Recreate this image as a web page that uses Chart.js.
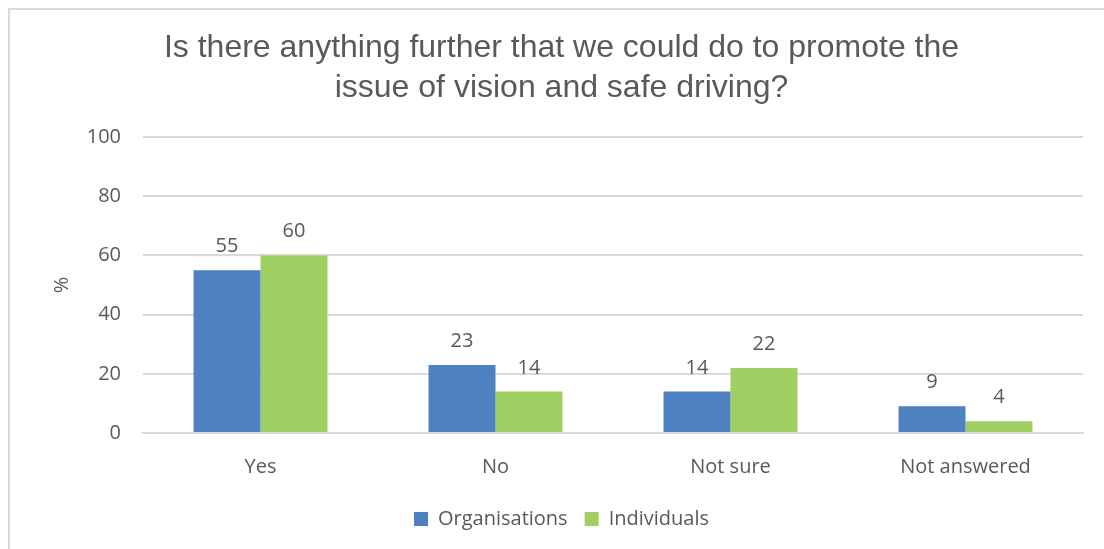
<!DOCTYPE html>
<html>
<head>
<meta charset="utf-8">
<script src="https://cdn.jsdelivr.net/npm/chart.js@4/dist/chart.umd.min.js"></script>
<style>
  html, body { margin: 0; padding: 0; background: #fff; }
  #frame { position: absolute; left: 8px; top: 8px; width: 1110px; height: 560px; border: 2px solid #d9d9d9; box-sizing: border-box; }
  #wrap { position: absolute; left: 0; top: 0; width: 1104px; height: 549px; }
</style>
</head>
<body>
<div id="frame"></div>
<div id="wrap"><canvas id="c" width="1104" height="549"></canvas></div>
<script>
const categories = ['Yes', 'No', 'Not sure', 'Not answered'];
const organisations = [55, 23, 14, 9];
const individuals = [60, 14, 22, 4];
const yTicks = [0, 20, 40, 60, 80, 100];

const textColor = '#595959';
const bodyFont = '"Open Sans", Lato, sans-serif';

// Writes each bar's value just above its top edge
const valueLabels = {
  id: 'valueLabels',
  afterDatasetsDraw(chart) {
    const ctx = chart.ctx;
    ctx.save();
    ctx.font = '20px ' + bodyFont;
    ctx.fillStyle = textColor;
    ctx.textAlign = 'center';
    ctx.textBaseline = 'alphabetic';
    chart.data.datasets.forEach((ds, i) => {
      chart.getDatasetMeta(i).data.forEach((bar, j) => {
        ctx.fillText(String(ds.data[j]), bar.x, bar.y - 18);
      });
    });
    ctx.restore();
  }
};

new Chart(document.getElementById('c'), {
  type: 'bar',
  data: {
    labels: categories,
    datasets: [
      { label: 'Organisations', data: organisations, backgroundColor: '#4e81c0' },
      { label: 'Individuals', data: individuals, backgroundColor: '#9fce63' }
    ]
  },
  options: {
    responsive: false,
    animation: false,
    layout: { padding: { left: 40, right: 21, top: 8, bottom: 10 } },
    datasets: { bar: { categoryPercentage: 0.57, barPercentage: 1.0 } },
    plugins: {
      title: {
        display: true,
        text: ['Is there anything further that we could do to promote the', 'issue of vision and safe driving?'],
        color: textColor,
        font: { family: '"Liberation Sans", Arial, sans-serif', size: 32, weight: 'normal', lineHeight: 1.25 },
        padding: { top: 20, bottom: 29 }
      },
      legend: {
        position: 'bottom',
        labels: {
          color: textColor,
          font: { family: bodyFont, size: 20 },
          boxWidth: 14, boxHeight: 14,
          padding: 17
        }
      },
      tooltip: { enabled: false }
    },
    scales: {
      x: {
        grid: { display: false, drawTicks: false },
        border: { color: '#d9d9d9', width: 2 },
        ticks: { color: textColor, font: { family: bodyFont, size: 20 }, padding: 22 },
        afterFit(axis) { axis.height = 59; }
      },
      y: {
        min: 0, max: 100,
        afterBuildTicks(axis) { axis.ticks = yTicks.map(v => ({ value: v })); },
        grid: { color: '#d9d9d9', lineWidth: 2, drawTicks: false },
        border: { display: false },
        ticks: { color: textColor, font: { family: bodyFont, size: 20 }, padding: 22 },
        title: { display: true, text: '%', color: textColor, font: { family: bodyFont, size: 20 }, padding: { top: 10, bottom: 10 } },
        afterFit(axis) { axis.width = 103; }
      }
    }
  },
  plugins: [valueLabels]
});
</script>
</body>
</html>
